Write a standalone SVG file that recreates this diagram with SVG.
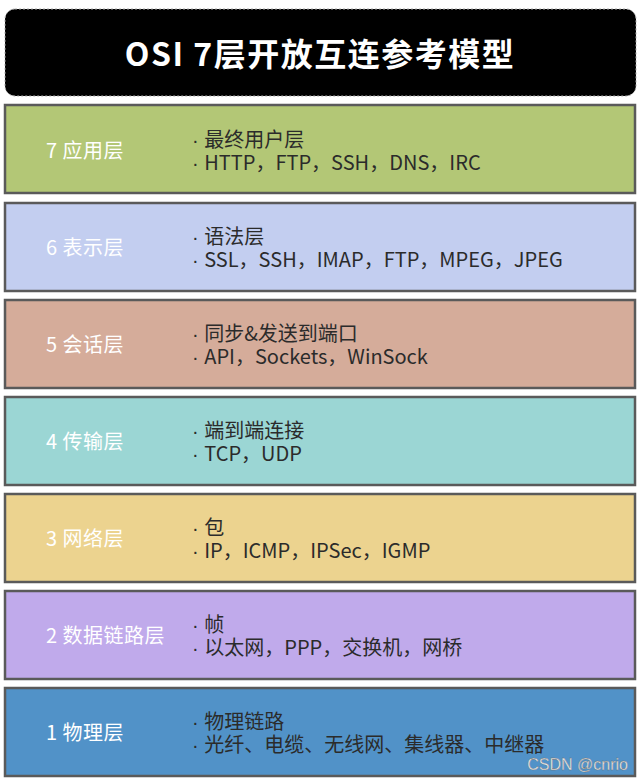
<svg xmlns="http://www.w3.org/2000/svg" width="641" height="782" viewBox="0 0 641 782">
<style>
.box{stroke:#5a5a5a;stroke-width:2.5}
.lbl{font-family:"Noto Sans CJK SC","Noto Sans",sans-serif;font-size:20px;fill:#ffffff;letter-spacing:0.5px}
.txt{font-family:"Noto Sans CJK SC","Noto Sans",sans-serif;font-size:20px;fill:#2b2b2b}
.b{font-family:"Liberation Sans",sans-serif}
.title{font-family:"Noto Sans CJK SC","Noto Sans",sans-serif;font-size:32px;font-weight:bold;fill:#ffffff;letter-spacing:1.5px}
</style>
<rect width="641" height="782" fill="#ffffff"/>
<g id="title">
<rect x="5" y="9" width="631" height="87" rx="10" fill="#000000" stroke="#aaaaaa" stroke-width="1" stroke-dasharray="2,2"/>
<text class="title" x="320" y="66" text-anchor="middle">OSI 7层开放互连参考模型</text>
</g>
<g id="layer7">
<rect class="box" x="5" y="105" width="630" height="88" fill="#b3c776"/>
<text class="lbl" x="46" y="158">7 应用层</text>
<text class="txt"><tspan x="192" y="147"><tspan class="b">· </tspan>最终用户层</tspan><tspan x="192" y="170"><tspan class="b">· </tspan>HTTP，FTP，SSH，DNS，IRC</tspan></text>
</g>
<g id="layer6">
<rect class="box" x="5" y="203" width="630" height="88" fill="#c3cef0"/>
<text class="lbl" x="46" y="255">6 表示层</text>
<text class="txt"><tspan x="192" y="244"><tspan class="b">· </tspan>语法层</tspan><tspan x="192" y="267"><tspan class="b">· </tspan>SSL，SSH，IMAP，FTP，MPEG，JPEG</tspan></text>
</g>
<g id="layer5">
<rect class="box" x="5" y="300" width="630" height="88" fill="#d5ac9a"/>
<text class="lbl" x="46" y="352">5 会话层</text>
<text class="txt"><tspan x="192" y="341"><tspan class="b">· </tspan>同步&amp;发送到端口</tspan><tspan x="192" y="364"><tspan class="b">· </tspan>API，Sockets，WinSock</tspan></text>
</g>
<g id="layer4">
<rect class="box" x="5" y="397" width="630" height="88" fill="#9bd6d4"/>
<text class="lbl" x="46" y="449">4 传输层</text>
<text class="txt"><tspan x="192" y="438"><tspan class="b">· </tspan>端到端连接</tspan><tspan x="192" y="461"><tspan class="b">· </tspan>TCP，UDP</tspan></text>
</g>
<g id="layer3">
<rect class="box" x="5" y="494" width="630" height="88" fill="#ecd38f"/>
<text class="lbl" x="46" y="546">3 网络层</text>
<text class="txt"><tspan x="192" y="535"><tspan class="b">· </tspan>包</tspan><tspan x="192" y="558"><tspan class="b">· </tspan>IP，ICMP，IPSec，IGMP</tspan></text>
</g>
<g id="layer2">
<rect class="box" x="5" y="591" width="630" height="88" fill="#c0aaeb"/>
<text class="lbl" x="46" y="643">2 数据链路层</text>
<text class="txt"><tspan x="192" y="632"><tspan class="b">· </tspan>帧</tspan><tspan x="192" y="655"><tspan class="b">· </tspan>以太网，PPP，交换机，网桥</tspan></text>
</g>
<g id="layer1">
<rect class="box" x="5" y="688" width="630" height="88" fill="#5192c8"/>
<text class="lbl" x="46" y="740">1 物理层</text>
<text class="txt"><tspan x="192" y="729"><tspan class="b">· </tspan>物理链路</tspan><tspan x="192" y="752"><tspan class="b">· </tspan>光纤、电缆、无线网、集线器、中继器</tspan></text>
</g>
<g id="connectors"></g>
<text x="628" y="770" text-anchor="end" font-family="Liberation Sans, sans-serif" font-size="16" fill="#e8e8e8" stroke="#6a6a6a" stroke-width="0.3">CSDN @cnrio</text>
</svg>
